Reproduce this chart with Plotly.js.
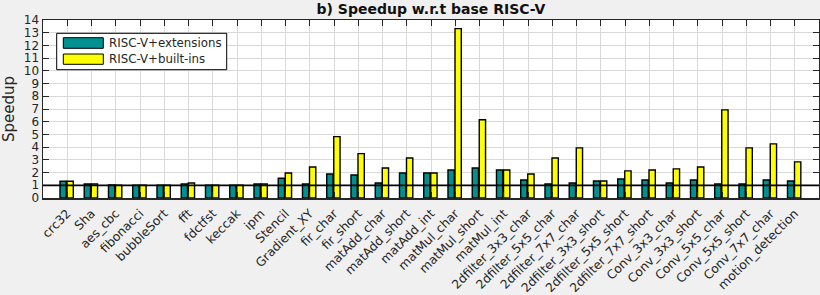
<!DOCTYPE html>
<html>
<head>
<meta charset="utf-8">
<script src="https://cdn.plot.ly/plotly-3.0.1.min.js"></script>
<style>html,body{margin:0;padding:0;background:#f0f0f0;}#chart{width:820px;height:295px;}</style>
</head>
<body>
<div id="chart"></div>
<script>
const benchmarks = ["crc32","Sha","aes_cbc","fibonacci","bubbleSort","fft","fdctfst","keccak","ipm","Stencil","Gradient_XY","fir_char","fir_short","matAdd_char","matAdd_short","matAdd_int","matMul_char","matMul_short","matMul_int","2dfilter_3x3_char","2dfilter_5x5_char","2dfilter_7x7_char","2dfilter_3x3_short","2dfilter_5x5_short","2dfilter_7x7_short","Conv_3x3_char","Conv_3x3_short","Conv_5x5_char","Conv_5x5_short","Conv_7x7_char","motion_detection"];
const extensions = [1.32,1.1,1.02,1.0,1.0,1.1,1.0,1.0,1.1,1.55,1.1,1.89,1.81,1.18,1.97,1.97,2.2,2.36,2.2,1.42,1.1,1.18,1.34,1.5,1.42,1.18,1.42,1.1,1.1,1.42,1.34];
const builtins = [1.32,1.1,1.0,1.0,1.0,1.18,1.0,1.0,1.1,1.97,2.44,4.83,3.49,2.36,3.15,1.97,13.32,6.15,2.2,1.89,3.15,3.94,1.34,2.13,2.2,2.29,2.44,6.93,3.94,4.26,2.84];
const seriesNames = ["RISC-V+extensions","RISC-V+built-ins"];
const seriesColors = ["#009090","#ffff00"];
const titleText = "b) Speedup w.r.t base RISC-V";
const yTitle = "Speedup";

const L = 43, T = 20, W = 776, H = 178;
const px = x => (x - L) / W;
const py = y => (T + H - y) / H;

const traces = [
  {type:"bar", x:benchmarks, y:extensions, name:seriesNames[0], width:0.26, offset:-0.30,
   marker:{color:seriesColors[0], line:{color:"#000", width:1.4}}, showlegend:false},
  {type:"bar", x:benchmarks, y:builtins, name:seriesNames[1], width:0.26, offset:-0.01,
   marker:{color:seriesColors[1], line:{color:"#000", width:1.4}}, showlegend:false}
];

const shapes = [
  {type:"line", xref:"paper", yref:"y", x0:0, x1:1, y0:1, y1:1, line:{color:"#000", width:1.8}, layer:"above"},
  {type:"rect", xref:"paper", yref:"paper", x0:px(56.7), x1:px(226.7), y0:py(69.7), y1:py(33.3), fillcolor:"#fff", line:{color:"#000", width:1}, layer:"above"},
  {type:"rect", xref:"paper", yref:"paper", x0:px(63.3), x1:px(103.3), y0:py(48.3), y1:py(37.7), fillcolor:seriesColors[0], line:{color:"#000", width:1}, layer:"above"},
  {type:"rect", xref:"paper", yref:"paper", x0:px(63.3), x1:px(103.3), y0:py(64.3), y1:py(54), fillcolor:seriesColors[1], line:{color:"#000", width:1}, layer:"above"}
];

const annotations = [
  {xref:"paper", yref:"paper", x:px(107), y:py(43), xanchor:"left", yanchor:"middle", text:seriesNames[0], showarrow:false, font:{family:"DejaVu Sans", size:11.8, color:"#262626"}},
  {xref:"paper", yref:"paper", x:px(107), y:py(59.3), xanchor:"left", yanchor:"middle", text:seriesNames[1], showarrow:false, font:{family:"DejaVu Sans", size:11.8, color:"#262626"}}
];

const layout = {
  width:820, height:295,
  margin:{l:L, r:1, t:T, b:97, pad:0},
  paper_bgcolor:"#f0f0f0", plot_bgcolor:"#ffffff",
  title:{text:"<b>"+titleText+"</b>", x:0.5, xref:"paper", xanchor:"center", y:1-9.5/295, yref:"container", yanchor:"middle", font:{family:"DejaVu Sans", size:14, color:"#111"}},
  barmode:"overlay",
  showlegend:false,
  xaxis:{type:"category", range:[-1,31], autorange:false, tickangle:-45, tickfont:{family:"DejaVu Sans", size:12.3, color:"#262626"},
    ticks:"inside", ticklen:6, tickcolor:"#262626", showgrid:true, gridcolor:"#d9d9d9", gridwidth:1, ticklabelstandoff:2,
    showline:true, linecolor:"#262626", linewidth:1.5, mirror:"allticks", zeroline:false, fixedrange:true},
  yaxis:{range:[0,14], autorange:false, dtick:1, tick0:0, tickfont:{family:"DejaVu Sans", size:12, color:"#262626"},
    ticks:"inside", ticklen:6, tickcolor:"#262626", showgrid:true, gridcolor:"#d9d9d9", gridwidth:1,
    showline:true, linecolor:"#262626", linewidth:1.5, mirror:"allticks", zeroline:false,
    title:{text:yTitle, font:{family:"DejaVu Sans", size:15, color:"#262626"}, standoff:7}},
  shapes:shapes,
  annotations:annotations
};

Plotly.newPlot("chart", traces, layout, {staticPlot:true, displayModeBar:false});
</script>
</body>
</html>
